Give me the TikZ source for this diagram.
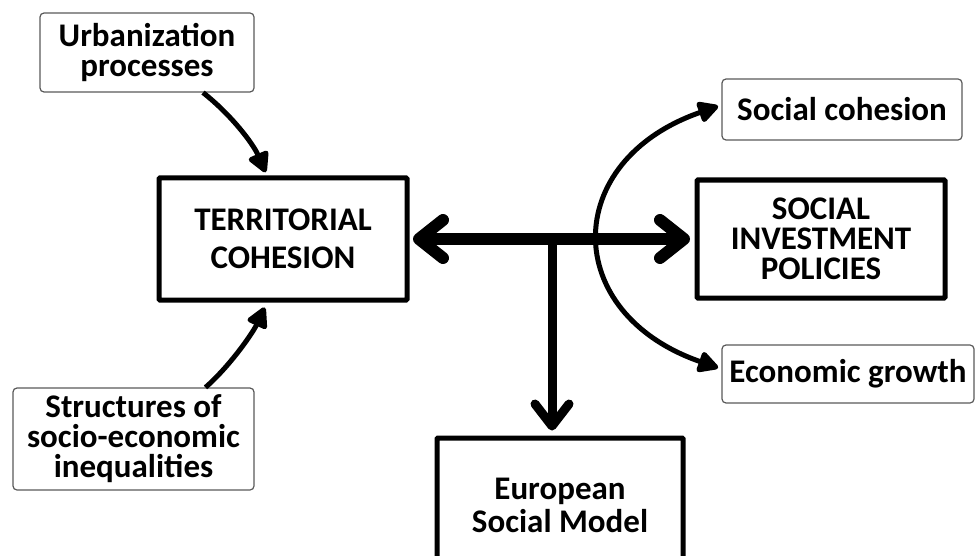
\documentclass[tikz,border=0pt]{standalone}
\usepackage{fontspec}
\setmainfont{Carlito}
\usetikzlibrary{arrows.meta,calc}
\newcommand\lbl{\fontsize{33}{30}\selectfont\bfseries}
\tikzset{
  thinbox/.style={draw=black!65, line width=1.2, rounded corners=4, align=center, font=\lbl, inner sep=0},
  thickbox/.style={draw, line width=5, rounded corners=1, align=center, font=\lbl, inner sep=0},
  fat/.style={line width=12, {Straight Barb[round, length=24pt, width=38pt]}-{Straight Barb[round, length=24pt, width=38pt]}},
  stem/.style={line width=9, -{Straight Barb[round, length=22pt, width=34pt]}},
  curvy/.style={line width=5, -{Triangle[round, length=23pt, width=23pt]}}
}
\begin{document}
\begin{tikzpicture}[x=1pt, y=-1pt]
  \clip (0,0) rectangle (976,556);
  \node[thinbox, minimum width=214, minimum height=79] (urban) at (147,52.5) {Urbanization\\processes};
  \node[thinbox, minimum width=241, minimum height=102] (struct) at (133.5,439) {Structures of\\socio-economic\\inequalities};
  \node[thickbox, minimum width=248, minimum height=122, font=\fontsize{33}{38}\selectfont\bfseries] (terr) at (283,239) {TERRITORIAL\\COHESION};
  \node[thickbox, minimum width=248, minimum height=118] (sip) at (821,239) {SOCIAL\\INVESTMENT\\POLICIES};
  \node[thinbox, minimum width=240, minimum height=61] (cohesion) at (842,109.5) {Social cohesion};
  \node[thinbox, minimum width=252, minimum height=58] (growth) at (848,374) {Economic growth};
  \node[thickbox, minimum width=246, minimum height=134, font=\fontsize{33}{33}\selectfont\bfseries] (esm) at (560,505) {European\\Social Model};
  \coordinate (mid) at ($(terr.east)!0.5!(sip.west)$);
  \begin{scope}
    \draw[fat, shorten <=3.5, shorten >=4.5] (terr.east) -- (sip.west);
    \draw[stem, shorten >=5] (mid) -- (mid |- esm.north);
    \draw[curvy, shorten >=3.5] ([xshift=56]urban.south) .. controls +(28,22) and +(-14,-32) .. ([xshift=-16]terr.north);
    \draw[curvy, shorten >=5.5] ([xshift=72]struct.north) .. controls +(25,-22) and +(-14,30) .. ([xshift=-16]terr.south);
    \draw[curvy, {Triangle[round, length=23pt, width=23pt]}-{Triangle[round, length=23pt, width=23pt]}, shorten <=3.5, shorten >=3.5]
      ([yshift=4.5]cohesion.west) .. controls +(-161,56) and +(-161,-56) .. ([yshift=5]growth.west);
  \end{scope}
\end{tikzpicture}
\end{document}
